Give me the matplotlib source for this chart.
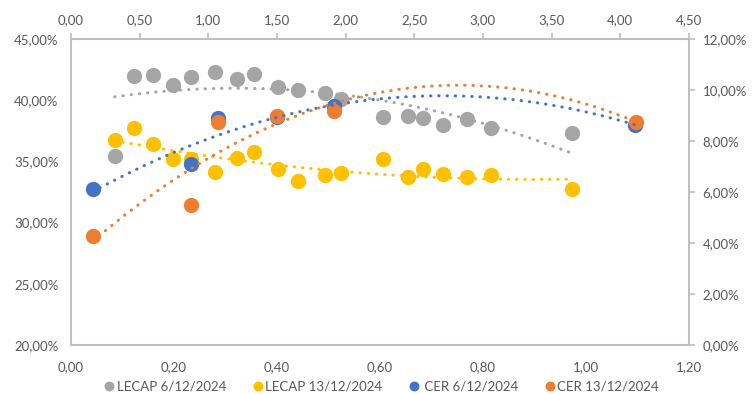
import matplotlib
matplotlib.use('Agg')
from matplotlib import pyplot as plt
from matplotlib.ticker import FuncFormatter, MultipleLocator
import numpy as np

plt.rcParams['font.family'] = ['Lato', 'DejaVu Sans']

# LECAP: primary axes (bottom x, left y in %)
lecap_x = [0.085, 0.122, 0.160, 0.198, 0.234, 0.280, 0.323, 0.355, 0.403, 0.441,
           0.493, 0.524, 0.606, 0.655, 0.684, 0.722, 0.770, 0.816, 0.973]
lecap_0612 = [35.44, 41.98, 42.03, 41.24, 41.87, 42.27, 41.73, 42.17, 41.10, 40.86,
              40.56, 40.07, 38.63, 38.71, 38.52, 37.97, 38.43, 37.75, 37.29]
lecap_1312 = [36.72, 37.76, 36.42, 35.20, 35.17, 34.13, 35.25, 35.79, 34.38, 33.40,
              33.89, 34.02, 35.20, 33.70, 34.38, 33.97, 33.75, 33.89, 32.75]

# CER: secondary axes (top x, right y in %)
cer_x_0612 = [0.158, 0.874, 1.068, 1.503, 1.915, 4.108]
cer_0612 = [6.11, 7.10, 8.89, 8.93, 9.37, 8.63]
cer_x_1312 = [0.158, 0.874, 1.068, 1.503, 1.915, 4.115]
cer_1312 = [4.26, 5.48, 8.76, 8.99, 9.18, 8.76]

labels = ['LECAP 6/12/2024', 'LECAP 13/12/2024', ' CER 6/12/2024', 'CER 13/12/2024']
colors = ['#a5a5a5', '#ffc000', '#4472c4', '#ed7d31']

grey_txt = '#595959'
spine_c = '#bfbfbf'


def trend(ax, x, y, color):
    p = np.polyfit(x, y, 2)
    xs = np.linspace(min(x), max(x), 200)
    ax.plot(xs, np.polyval(p, xs), color=color, lw=2.2,
            linestyle=(0, (0.1, 2.6)), dash_capstyle='round', zorder=5)


def num(v, _):
    return f'{v:.2f}'.replace('.', ',')


def pct(v, _):
    return f'{v:.2f}%'.replace('.', ',')


fig = plt.figure(figsize=(7.52, 3.94), dpi=100)
rect = [0.0944, 0.1244, 0.8216, 0.7766]
ax = fig.add_axes(rect)
ax2 = fig.add_axes(rect, frameon=False)

ax.plot(lecap_x, lecap_0612, 'o', ms=11, color=colors[0], mec='none', zorder=3, label=labels[0])
ax.plot(lecap_x, lecap_1312, 'o', ms=11, color=colors[1], mec='none', zorder=3, label=labels[1])
trend(ax, lecap_x, lecap_0612, colors[0])
trend(ax, lecap_x, lecap_1312, colors[1])

ax2.plot(cer_x_0612, cer_0612, 'o', ms=11, color=colors[2], mec='none', zorder=3, label=labels[2])
ax2.plot(cer_x_1312, cer_1312, 'o', ms=11, color=colors[3], mec='none', zorder=3, label=labels[3])
trend(ax2, cer_x_0612, cer_0612, colors[2])
trend(ax2, cer_x_1312, cer_1312, colors[3])

ax.set_xlim(0, 1.2)
ax.set_ylim(20, 45)
ax.xaxis.set_major_locator(MultipleLocator(0.2))
ax.yaxis.set_major_locator(MultipleLocator(5))
ax.xaxis.set_major_formatter(FuncFormatter(num))
ax.yaxis.set_major_formatter(FuncFormatter(pct))
ax.tick_params(axis='x', length=0, pad=12, labelsize=9.5, labelcolor=grey_txt)
ax.tick_params(axis='y', length=0, pad=9, labelsize=9.5, labelcolor=grey_txt)

ax2.set_xlim(0, 4.5)
ax2.set_ylim(0, 12)
ax2.xaxis.tick_top()
ax2.yaxis.tick_right()
ax2.xaxis.set_major_locator(MultipleLocator(0.5))
ax2.yaxis.set_major_locator(MultipleLocator(2))
ax2.xaxis.set_major_formatter(FuncFormatter(num))
ax2.yaxis.set_major_formatter(FuncFormatter(pct))
ax2.tick_params(axis='both', direction='out', length=4, width=1.2, color=spine_c,
                labelsize=9.5, labelcolor=grey_txt)
ax2.tick_params(axis='x', pad=5)
ax2.tick_params(axis='y', pad=6)

for s in ax.spines.values():
    s.set_color(spine_c)
    s.set_linewidth(1.5)

h1, l1 = ax.get_legend_handles_labels()
h2, l2 = ax2.get_legend_handles_labels()
leg = fig.legend(h1 + h2, l1 + l2, loc='center', bbox_to_anchor=(0.508, 0.02), ncol=4,
                 frameon=False, fontsize=9.5, markerscale=0.65, handlelength=0.6,
                 handletextpad=0.25, columnspacing=2.1)
for t in leg.get_texts():
    t.set_color(grey_txt)

fig.savefig('out.png', dpi=100)
